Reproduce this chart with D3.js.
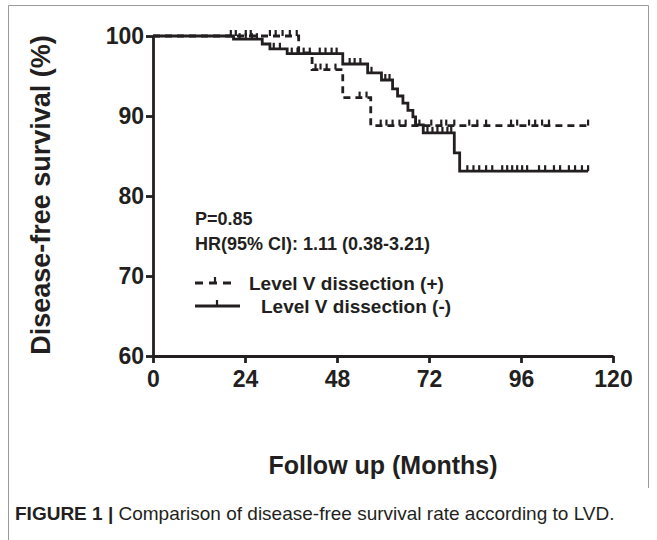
<!DOCTYPE html>
<html>
<head>
<meta charset="utf-8">
<script src="https://cdn.jsdelivr.net/npm/d3@7"></script>
<style>
  body { margin: 0; background: #fff; }
  svg { display: block; }
</style>
</head>
<body>
<svg width="657" height="540"></svg>
<script>
// Kaplan-Meier data (months, survival %)
const stepsPlus = [[0, 100], [38, 97.9], [41.5, 95.8], [49.5, 92.3], [56.8, 88.8], [113.5, 88.8]];
const censorPlus = [20.3, 21.6, 24.2, 25.5, 30.5, 32.0, 33.8, 35.7, 37.5,
  42.4, 43.7, 45.3, 47.6, 53.9, 55.7,
  59.4, 60.9, 62.5, 64.3, 65.9, 68.5, 69.5, 72.6, 75.2, 76.5, 78.6,
  82.5, 84.6, 86.9, 93.4, 95.0, 98.1, 99.7, 101.5, 103.3, 113.5];

const stepsMinus = [[0, 100], [21, 99.6], [28.5, 99.0], [30.5, 98.4], [35, 97.8], [49.5, 96.5],
  [56, 95.4], [59.6, 94.5], [62.5, 93.4], [63.8, 92.5], [65.2, 91.6], [66.5, 90.7],
  [67.8, 89.9], [68.5, 88.9], [70.5, 87.9], [78.6, 85.4], [80, 83.1], [113.5, 83.1]];
const censorMinus = [22.6, 24.2, 25.8, 27.1, 31.5, 33.1,
  36.2, 37.7, 39.3, 40.9, 43.5, 45.0, 46.6, 47.9,
  51.3, 52.6, 54.1, 57.0, 60.6, 61.7,
  71.6, 72.9, 74.2, 75.5, 76.8, 77.8,
  82.0, 83.6, 85.1, 86.9, 88.5, 91.1, 92.4, 93.7, 95.0, 96.3, 97.6,
  100.7, 102.3, 104.6, 106.2, 108.5, 110.1, 111.9, 113.5];

const xTicks = [0, 24, 48, 72, 96, 120];
const yTicks = [60, 70, 80, 90, 100];

const statText = ["P=0.85", "HR(95% CI): 1.11 (0.38-3.21)"];
const legendLabels = ["Level V dissection (+)", "Level V dissection (-)"];

const svg = d3.select("svg");
const ink = "#231f20";
const font = "'Liberation Sans', Arial, sans-serif";

// frame around the figure
svg.append("path")
  .attr("d", "M8.5,540 V5.5 H648.5 V488")
  .attr("fill", "none")
  .attr("stroke", "#9a9a9a")
  .attr("stroke-width", 1);

const xScale = d3.scaleLinear().domain([0, 120]).range([153, 613]);
const yScale = d3.scaleLinear().domain([60, 100]).range([356, 36]);

// axes
const xAxis = svg.append("g")
  .attr("transform", "translate(0," + yScale(60) + ")")
  .call(d3.axisBottom(xScale).tickValues(xTicks).tickSize(7).tickSizeOuter(0).tickPadding(6));
const yAxis = svg.append("g")
  .attr("transform", "translate(" + xScale(0) + ",0)")
  .call(d3.axisLeft(yScale).tickValues(yTicks).tickSize(7).tickSizeOuter(0).tickPadding(2));

[xAxis, yAxis].forEach(g => {
  g.select(".domain").attr("stroke", ink).attr("stroke-width", 2.8);
  g.selectAll(".tick line").attr("stroke", ink).attr("stroke-width", 2.8);
  g.selectAll(".tick text")
    .attr("fill", ink)
    .style("font-family", font)
    .style("font-weight", "bold")
    .style("font-size", "23px");
});
xAxis.selectAll(".tick text").attr("dy", "0.78em");
yAxis.selectAll(".tick text").attr("dy", "0.34em");

// step line generator
const line = d3.line()
  .x(d => xScale(d[0]))
  .y(d => yScale(d[1]))
  .curve(d3.curveStepAfter);

// survival value at a given time
const survAt = (steps, t) => {
  let s = steps[0][1];
  steps.forEach(p => { if (p[0] <= t) s = p[1]; });
  return s;
};

const drawCurve = (steps, censor, dash) => {
  svg.append("path")
    .attr("d", line(steps))
    .attr("fill", "none")
    .attr("stroke", ink)
    .attr("stroke-width", 2.8)
    .attr("stroke-dasharray", dash);

  svg.append("g")
    .selectAll("line")
    .data(censor)
    .enter()
    .append("line")
    .attr("x1", d => xScale(d))
    .attr("x2", d => xScale(d))
    .attr("y1", d => yScale(survAt(steps, d)))
    .attr("y2", d => yScale(survAt(steps, d)) - 6)
    .attr("stroke", ink)
    .attr("stroke-width", 2.2);
};

drawCurve(stepsMinus, censorMinus, null);
drawCurve(stepsPlus, censorPlus, "7,5");

// stats text
svg.selectAll(".stat")
  .data(statText)
  .enter()
  .append("text")
  .attr("x", 195)
  .attr("y", (d, i) => 225 + i * 25)
  .attr("fill", ink)
  .style("font-family", font)
  .style("font-weight", "bold")
  .style("font-size", "18px")
  .text(d => d);

// legend
const legendY = [283, 306];
svg.append("path")
  .attr("d", "M195," + legendY[0] + " H234")
  .attr("stroke", ink).attr("stroke-width", 2.8).attr("stroke-dasharray", "8,6");
svg.append("line")
  .attr("x1", 215).attr("x2", 215).attr("y1", legendY[0]).attr("y2", legendY[0] - 6)
  .attr("stroke", ink).attr("stroke-width", 2.2);
svg.append("path")
  .attr("d", "M195," + legendY[1] + " H240")
  .attr("stroke", ink).attr("stroke-width", 2.8);
svg.append("line")
  .attr("x1", 217).attr("x2", 217).attr("y1", legendY[1]).attr("y2", legendY[1] - 6)
  .attr("stroke", ink).attr("stroke-width", 2.2);

svg.selectAll(".leg")
  .data(legendLabels)
  .enter()
  .append("text")
  .attr("x", (d, i) => i === 0 ? 249 : 261)
  .attr("y", (d, i) => legendY[i] + 7)
  .attr("fill", ink)
  .style("font-family", font)
  .style("font-weight", "bold")
  .style("font-size", "19px")
  .text(d => d);

// axis titles
svg.append("text")
  .attr("transform", "translate(50,195) rotate(-90)")
  .attr("text-anchor", "middle")
  .attr("fill", ink)
  .style("font-family", font)
  .style("font-weight", "bold")
  .style("font-size", "27px")
  .text("Disease-free survival (%)");

svg.append("text")
  .attr("x", 383)
  .attr("y", 474)
  .attr("text-anchor", "middle")
  .attr("fill", ink)
  .style("font-family", font)
  .style("font-weight", "bold")
  .style("font-size", "25px")
  .text("Follow up (Months)");

// caption
const cap = svg.append("text")
  .attr("x", 15)
  .attr("y", 520)
  .attr("fill", "#231f20")
  .style("font-family", font)
  .style("font-size", "19px");
cap.append("tspan").style("font-weight", "bold").text("FIGURE 1 | ");
cap.append("tspan").text("Comparison of disease-free survival rate according to LVD.");
</script>
</body>
</html>
